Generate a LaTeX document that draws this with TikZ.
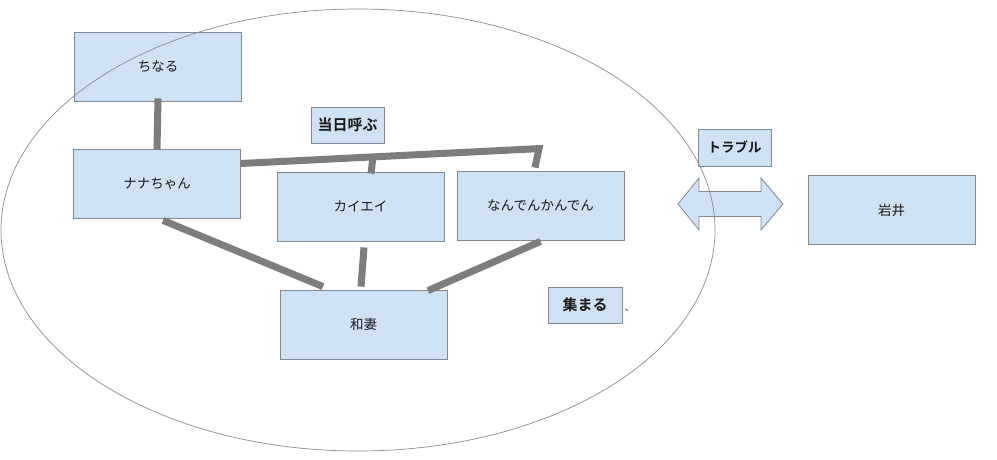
\documentclass[tikz,border=0pt]{standalone}
\usepackage{fontspec}
\newfontfamily\jp{Noto Sans CJK JP}[BoldFont={Noto Sans CJK JP Bold}]
\usetikzlibrary{calc}
\definecolor{boxfill}{RGB}{207,226,243}
\definecolor{boxline}{RGB}{128,138,148}
\definecolor{connline}{RGB}{125,125,125}
\definecolor{ovalline}{RGB}{140,140,140}
\tikzset{
  box/.style={draw=boxline, line width=0.8pt, fill=boxfill, rectangle, inner sep=0pt,
    font=\jp\fontsize{13.5}{15}\selectfont, text=black!90},
  bigbox/.style={box, minimum width=167pt, minimum height=69pt},
  tagbox/.style={box, minimum height=36pt, font=\jp\bfseries\fontsize{15}{17}\selectfont},
  conn/.style={draw=connline, line width=7pt, line cap=butt, line join=miter},
}
\begin{document}
\begin{tikzpicture}[x=1pt,y=-1pt]
\useasboundingbox (0,0) rectangle (997,459);
\fill[white] (0,0) rectangle (997,459);
% boxes
\node[bigbox] (chinaru) at (158,66.5) {ちなる};
\node[bigbox] (nana) at (157,183.5) {ナナちゃん};
\node[bigbox] (kai) at (360.5,206.5) {カイエイ};
\node[bigbox] (nan) at (540.5,205.5) {なんでんかんでん};
\node[bigbox] (wazuma) at (363.5,324.5) {和妻};
\node[bigbox] (iwai) at (891.5,210) {岩井};
\node[tagbox, minimum width=73pt] (toujitsu) at (347.5,125) {当日呼ぶ};
\node[tagbox, minimum width=74pt] (atsumaru) at (585,305) {集まる};
\node[tagbox, minimum width=73pt, minimum height=37pt,
  font=\jp\bfseries\fontsize{13.5}{16}\selectfont] (trouble) at (734.5,147.5) {トラブル};
% double arrow
\draw[draw=boxline, line width=0.8pt, fill=boxfill]
  (678,204) -- (699,178) -- (699,191.5) -- (761,191.5) -- (761,178) -- (783,204)
  -- (761,230) -- (761,216.5) -- (699,216.5) -- (699,230) -- cycle;
% connectors
\draw[conn] ([yshift=3pt]chinaru.south) -- ([yshift=-1pt]nana.north);
\draw[conn] ([yshift=20pt]nana.east) -- ([xshift=-1.5pt,yshift=22pt]nan.north)
  -- ([xshift=-5.5pt,yshift=3pt]nan.north);
\draw[conn] ([xshift=12.5pt,yshift=15pt]kai.north) -- ([xshift=10.5pt,yshift=-2pt]kai.north);
\draw[conn] ([xshift=6pt,yshift=-2pt]nana.south) -- ([xshift=-40.5pt,yshift=3pt]wazuma.north);
\draw[conn] ([xshift=3.5pt,yshift=-6pt]kai.south) -- ([xshift=-2.5pt,yshift=3pt]wazuma.north);
\draw[conn] ([yshift=-1pt]nan.south) -- ([xshift=64.5pt,yshift=-1pt]wazuma.north);
% tiny stray mark
\coordinate (mk) at ([xshift=3pt,yshift=-4pt]atsumaru.east);
\draw[black!70, line width=0.8pt] (mk) -- ++(2.5,1.5);
% oval
\draw[ovalline, line width=0.7pt] (358,230) ellipse [x radius=357, y radius=221];
\end{tikzpicture}
\end{document}
